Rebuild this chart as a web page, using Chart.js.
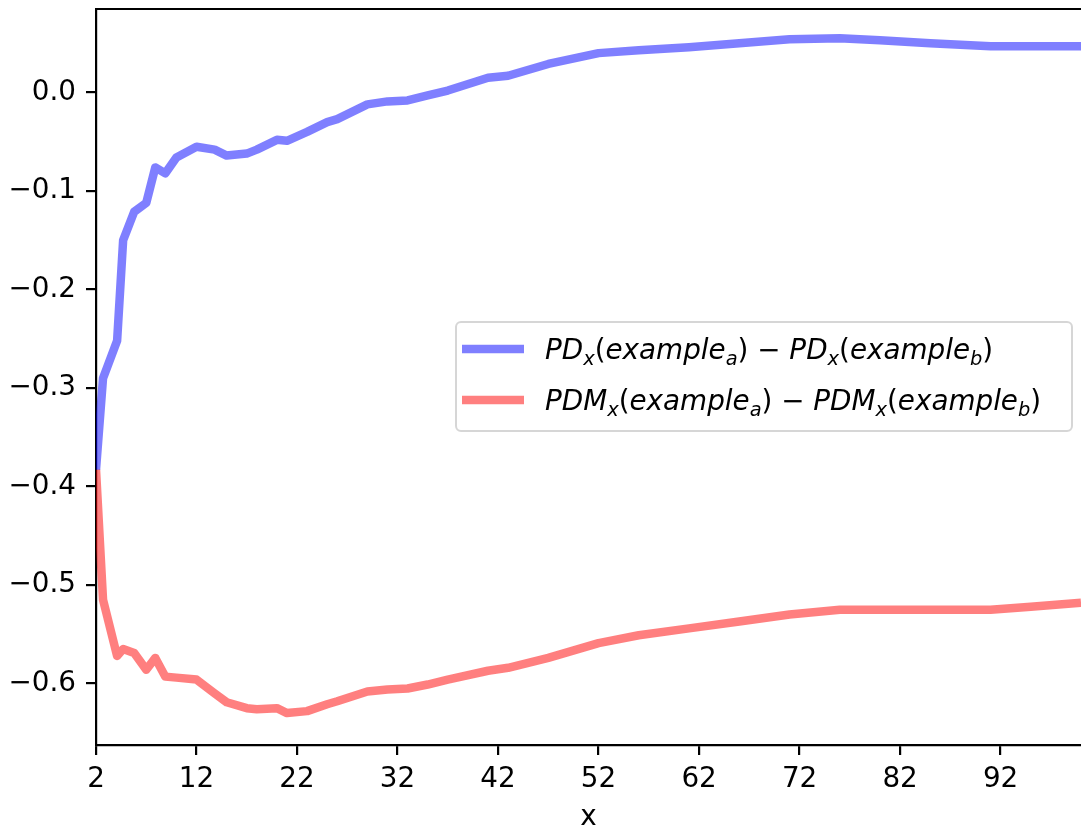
<!DOCTYPE html>
<html>
<head>
<meta charset="utf-8">
<script src="https://cdn.jsdelivr.net/npm/chart.js@4.4.1/dist/chart.umd.min.js"></script>
<style>
    html, body { margin: 0; padding: 0; background: #fff; }
    #wrap { width: 1081px; height: 829px; }
</style>
</head>
<body>
<div id="wrap"><canvas id="pdChart" width="1081" height="829"></canvas></div>
<script>
// x grid shared by both curves
const xValues = [2, 2.7, 4.1, 4.7, 5.8, 7.0, 7.9, 8.9, 10, 12, 13.8, 15, 17, 18, 20, 21, 23, 25, 26, 29,
                 31, 33, 35, 37, 41, 43, 47, 52, 56, 61, 66, 71, 76, 80, 85, 91, 95, 100];

// PD_x(example_a) - PD_x(example_b)
const pdDiff = [-0.383, -0.290, -0.252, -0.150, -0.121, -0.112, -0.076, -0.082, -0.066, -0.055, -0.058, -0.064,
                -0.062, -0.058, -0.048, -0.049, -0.040, -0.030, -0.027, -0.012, -0.009, -0.008, -0.003, 0.002,
                0.015, 0.017, 0.029, 0.040, 0.043, 0.046, 0.050, 0.054, 0.055, 0.053, 0.050, 0.047, 0.047, 0.047];

// PDM_x(example_a) - PDM_x(example_b)
const pdmDiff = [-0.383, -0.515, -0.572, -0.565, -0.569, -0.586, -0.574, -0.593, -0.594, -0.596, -0.610, -0.619,
                 -0.625, -0.626, -0.625, -0.630, -0.628, -0.621, -0.618, -0.608, -0.606, -0.605, -0.601, -0.596,
                 -0.587, -0.584, -0.574, -0.559, -0.551, -0.544, -0.537, -0.530, -0.525, -0.525, -0.525, -0.525,
                 -0.522, -0.518];

const xTicks = [2, 12, 22, 32, 42, 52, 62, 72, 82, 92];
const yTicks = [-0.6, -0.5, -0.4, -0.3, -0.2, -0.1, 0.0];
const xRange = [2, 100];
const yRange = [-0.6624, 0.0848];

// legend labels as mathtext-like pieces: i = italic, s = subscript, r = upright
const legendRows = [
    { color: 'rgba(0,0,255,0.5)', parts: [['PD','i'],['x','s'],['(','r'],['example','i'],['a','s'],[')','r'],[' \u2212 ','r'],
                                          ['PD','i'],['x','s'],['(','r'],['example','i'],['b','s'],[')','r']] },
    { color: 'rgba(255,0,0,0.5)', parts: [['PDM','i'],['x','s'],['(','r'],['example','i'],['a','s'],[')','r'],[' \u2212 ','r'],
                                          ['PDM','i'],['x','s'],['(','r'],['example','i'],['b','s'],[')','r']] }
];

const FONT = 'DejaVu Sans';
const FS = 27.8;

const toPoints = (ys) => xValues.map((x, i) => ({ x: x, y: ys[i] }));

// top spine + mathtext legend
const framePlugin = {
    id: 'frameAndLegend',
    afterDatasetsDraw(chart) {
        const ctx = chart.ctx;
        const a = chart.chartArea;
        ctx.save();
        ctx.strokeStyle = '#000';
        ctx.lineWidth = 2.2;
        ctx.beginPath();
        ctx.moveTo(a.left, a.top);
        ctx.lineTo(a.right, a.top);
        ctx.stroke();

        // legend box
        const box = { left: 456, top: 322, right: 1072, bottom: 431 };
        ctx.beginPath();
        ctx.roundRect(box.left, box.top, box.right - box.left, box.bottom - box.top, 5);
        ctx.fillStyle = 'rgba(255,255,255,0.8)';
        ctx.fill();
        ctx.strokeStyle = 'rgba(204,204,204,0.8)';
        ctx.lineWidth = 2;
        ctx.stroke();

        legendRows.forEach((row, r) => {
            const cy = 349 + r * 51;
            ctx.strokeStyle = row.color;
            ctx.lineWidth = 8.5;
            ctx.lineCap = 'butt';
            ctx.beginPath();
            ctx.moveTo(462, cy);
            ctx.lineTo(524, cy);
            ctx.stroke();

            let x = 545;
            const base = cy + 10;
            ctx.fillStyle = '#000';
            ctx.textBaseline = 'alphabetic';
            ctx.textAlign = 'left';
            row.parts.forEach(([t, kind]) => {
                let dy = 0;
                if (kind === 'i') ctx.font = 'italic ' + FS + 'px "' + FONT + '"';
                else if (kind === 's') { ctx.font = 'italic ' + (FS * 0.7) + 'px "' + FONT + '"'; dy = 6; }
                else ctx.font = FS + 'px "' + FONT + '"';
                ctx.fillText(t, x, base + dy);
                x += ctx.measureText(t).width;
            });
        });
        ctx.restore();
    }
};

const fmt = (v) => Number(v).toFixed(1).replace('-', '\u2212');

new Chart(document.getElementById('pdChart').getContext('2d'), {
    type: 'line',
    data: {
        datasets: [{
            label: 'PD',
            data: toPoints(pdDiff),
            borderColor: 'rgba(0,0,255,0.5)',
            borderWidth: 8.5,
            pointRadius: 0,
            tension: 0,
            borderJoinStyle: 'round',
            clip: 0,
            order: 2
        }, {
            label: 'PDM',
            data: toPoints(pdmDiff),
            borderColor: 'rgba(255,0,0,0.5)',
            borderWidth: 8.5,
            pointRadius: 0,
            tension: 0,
            borderJoinStyle: 'round',
            clip: 0,
            order: 1
        }]
    },
    options: {
        responsive: false,
        animation: false,
        devicePixelRatio: 1,
        layout: { padding: { top: 9, right: -7, left: 0, bottom: 0 } },
        plugins: {
            legend: { display: false },
            tooltip: { enabled: false }
        },
        scales: {
            x: {
                type: 'linear',
                min: xRange[0],
                max: xRange[1],
                afterFit: (s) => { s.height = 84; s.paddingLeft = 0; s.paddingRight = 0; },
                afterBuildTicks: (s) => { s.ticks = xTicks.map(v => ({ value: v })); },
                grid: { drawOnChartArea: false, color: '#000', lineWidth: 2.2, tickLength: 10 },
                border: { display: true, color: '#000', width: 2.2 },
                ticks: {
                    color: '#000', padding: 8, maxRotation: 0, autoSkip: false,
                    font: { family: FONT, size: FS },
                    callback: (v) => String(v)
                },
                title: { display: true, text: 'x', color: '#000', font: { family: FONT, size: FS }, padding: { top: 8, bottom: -5 } }
            },
            y: {
                type: 'linear',
                min: yRange[0],
                max: yRange[1],
                afterFit: (s) => { s.width = 96; s.paddingTop = 0; s.paddingBottom = 0; },
                afterBuildTicks: (s) => { s.ticks = yTicks.map(v => ({ value: v })); },
                grid: { drawOnChartArea: false, color: '#000', lineWidth: 2.2, tickLength: 10 },
                border: { display: true, color: '#000', width: 2.2 },
                ticks: {
                    color: '#000', padding: 10, autoSkip: false,
                    font: { family: FONT, size: FS },
                    callback: (v) => fmt(v)
                }
            }
        }
    },
    plugins: [framePlugin]
});
</script>
</body>
</html>
